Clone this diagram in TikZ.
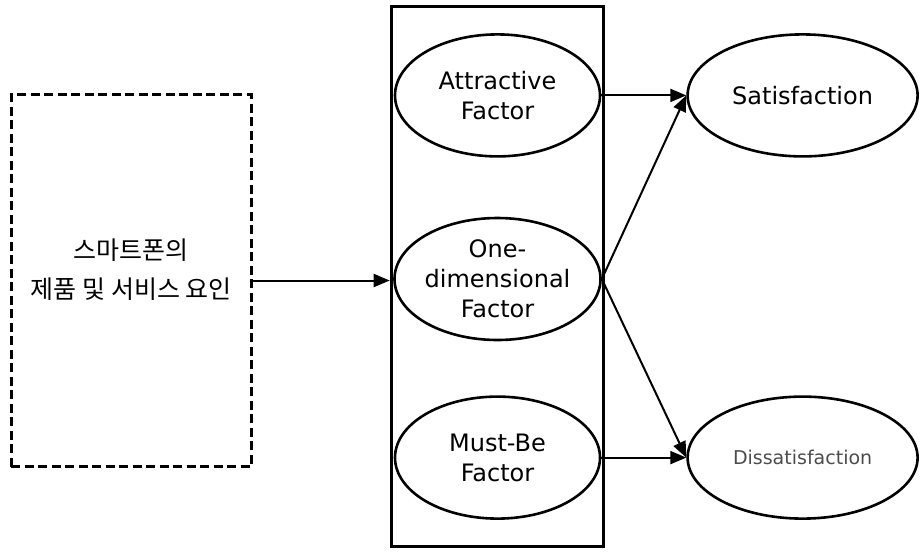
\documentclass[tikz,border=0pt]{standalone}
\usepackage{fontspec}
\setmainfont{DejaVu Sans}
\newfontfamily\kofont{Noto Sans CJK KR}
\usepackage{tikz}
\usetikzlibrary{shapes,arrows.meta,positioning,fit}
\tikzstyle{factor} = [ellipse, draw=black, line width=2.6pt, fill=none, text=black, align=center, font=\fontsize{24}{30}\selectfont, minimum width=205pt, minimum height=122pt, inner sep=0pt]
\tikzstyle{result} = [factor, minimum width=230pt]
\tikzstyle{group} = [rectangle, draw=black, line width=3pt]
\tikzstyle{source} = [rectangle, draw=black, line width=3pt, dash pattern=on 9pt off 4.5pt, minimum width=240pt, minimum height=372pt, align=center, text depth=23pt, font=\kofont\fontsize{25}{39}\selectfont]
\tikzstyle{tedge}  = [draw, line width=2pt, >={Triangle[length=16pt,width=13pt]}, ->]

\begin{document}
\begin{tikzpicture}[x=1pt, y=1pt]
\useasboundingbox (0,0) rectangle (920,-552);

% factors =============================
\node[factor] (onedim) at (497.5,-279) {One-\\dimensional\\Factor};
\node[factor, above=59pt of onedim] (attr) {Attractive\\Factor};
\node[factor, below=54pt of onedim] (must) {Must-Be\\Factor};

% results
\node[result, right=85pt of attr] (sat) {Satisfaction};
\node[result, right=85pt of must, font=\fontsize{19}{24}\selectfont, text=black!70] (dissat) {Dissatisfaction};

% boxes
\node[group, fit=(attr)(must), inner xsep=2.5pt, inner ysep=27pt] (kano) {};
\node[source, left=137pt of kano, yshift=-4pt] (smart) {스마트폰의\\제품 및 서비스 요인};

% edges
\draw[tedge] (smart.east) -- (smart.east -| kano.west);
\draw[tedge] (attr.east) -- (sat.west);
\draw[tedge] (onedim.east) -- (sat.west);
\draw[tedge] (onedim.east) -- (dissat.west);
\draw[tedge] (must.east) -- (dissat.west);

\end{tikzpicture}
\end{document}
